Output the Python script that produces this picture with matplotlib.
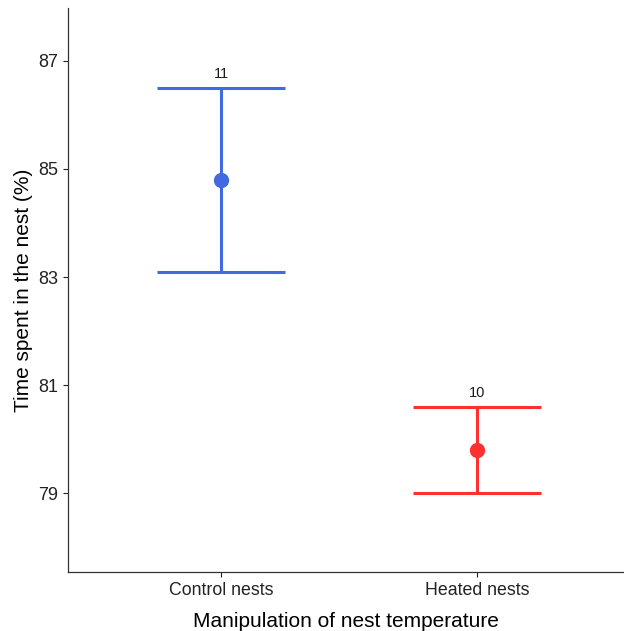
import matplotlib.pyplot as plt

plt.rcParams["font.family"] = ["Liberation Sans", "DejaVu Sans"]

# data
groups = ["Control nests", "Heated nests"]
means = [84.8, 79.8]
lower = [83.1, 79.0]
upper = [86.5, 80.6]
counts = ["11", "10"]
colors = ["#4169E1", "#FF3030"]

fig = plt.figure(figsize=(6.24, 6.31), dpi=100)
ax = fig.add_axes([68 / 624, 59 / 631, 556 / 624, 564 / 631])

for i, (m, lo, hi, n, c) in enumerate(zip(means, lower, upper, counts, colors)):
    x = i + 1
    ax.errorbar(
        x, m,
        yerr=[[m - lo], [hi - m]],
        fmt="o",
        color=c,
        markersize=10,
        elinewidth=2.2,
        capsize=46,
        capthick=2.2,
    )
    ax.text(x, hi + 0.12, n, ha="center", va="bottom", fontsize=10.5, color="#1a1a1a")

ax.set_xlim(0.402, 2.574)
ax.set_ylim(77.54, 87.98)
ax.set_xticks([1, 2])
ax.set_xticklabels(groups, fontsize=12.8, color="#222222")
ax.set_yticks([79, 81, 83, 85, 87])
ax.tick_params(axis="y", labelsize=13, colors="#222222", length=3.5, width=0.8)
ax.tick_params(axis="x", colors="#222222", length=3.5, width=0.8, pad=4)

ax.set_xlabel("Manipulation of nest temperature", fontsize=15, labelpad=9)
ax.set_ylabel("Time spent in the nest (%)", fontsize=15, labelpad=4)

for side in ["top", "right"]:
    ax.spines[side].set_visible(False)
for side in ["left", "bottom"]:
    ax.spines[side].set_linewidth(0.9)
    ax.spines[side].set_color("#333333")

fig.savefig("out.png", dpi=100)
